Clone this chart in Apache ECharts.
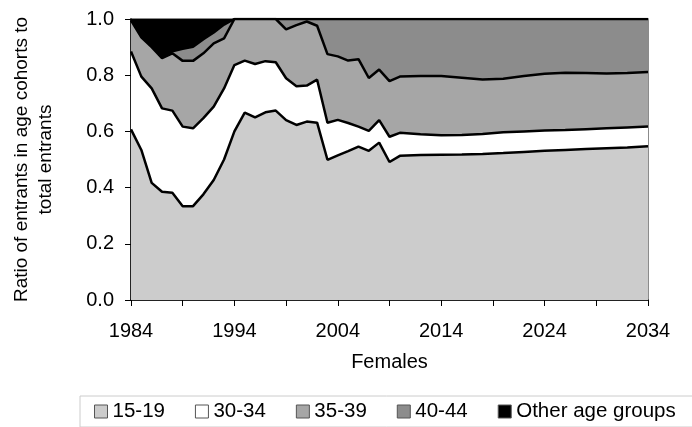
<!DOCTYPE html>
<html>
<head>
<meta charset="utf-8">
<script src="https://cdn.jsdelivr.net/npm/echarts@6/dist/echarts.min.js"></script>
<style>
html, body { margin: 0; padding: 0; background: #fff; }
#chart { width: 692px; height: 427px; }
</style>
</head>
<body>
<div id="chart"></div>
<script>
// years: annual history, projection every two years
var years = [1984, 1985, 1986, 1987, 1988, 1989, 1990, 1991, 1992, 1993, 1994, 1995, 1996, 1997, 1998, 1999,
  2000, 2001, 2002, 2003, 2004, 2005, 2006, 2007, 2008, 2009, 2010,
  2012, 2014, 2016, 2018, 2020, 2022, 2024, 2026, 2028, 2030, 2032, 2034];

var age15to19 = [0.607, 0.534, 0.417, 0.385, 0.382, 0.334, 0.334, 0.376, 0.427, 0.500, 0.600, 0.667, 0.650, 0.668, 0.674, 0.640,
  0.623, 0.635, 0.631, 0.499, 0.515, 0.530, 0.546, 0.531, 0.560, 0.491, 0.513,
  0.516, 0.517, 0.518, 0.520, 0.523, 0.527, 0.531, 0.534, 0.537, 0.540, 0.543, 0.547];

var age30to34 = [0.277, 0.261, 0.336, 0.297, 0.292, 0.283, 0.277, 0.271, 0.261, 0.253, 0.236, 0.185, 0.190, 0.182, 0.172, 0.149,
  0.138, 0.128, 0.153, 0.132, 0.126, 0.100, 0.071, 0.071, 0.080, 0.090, 0.082,
  0.074, 0.069, 0.069, 0.071, 0.074, 0.073, 0.072, 0.071, 0.071, 0.071, 0.071, 0.070];

var age35to39 = [0.111, 0.140, 0.147, 0.179, 0.204, 0.234, 0.240, 0.231, 0.225, 0.178, 0.164, 0.148, 0.160, 0.150, 0.154, 0.174,
  0.217, 0.228, 0.192, 0.244, 0.226, 0.222, 0.240, 0.188, 0.180, 0.198, 0.200,
  0.207, 0.211, 0.204, 0.194, 0.190, 0.197, 0.202, 0.204, 0.200, 0.195, 0.194, 0.194];

var age40to44 = [0, 0, 0, 0.002, 0.007, 0.043, 0.050, 0.050, 0.039, 0.049, 0, 0, 0, 0, 0, 0.037,
  0.022, 0.009, 0.024, 0.125, 0.133, 0.148, 0.143, 0.210, 0.180, 0.221, 0.205,
  0.203, 0.203, 0.209, 0.215, 0.213, 0.203, 0.195, 0.191, 0.192, 0.194, 0.192, 0.189];

var otherAges = [0.005, 0.065, 0.100, 0.137, 0.115, 0.106, 0.099, 0.072, 0.048, 0.020, 0, 0, 0, 0, 0, 0,
  0, 0, 0, 0, 0, 0, 0, 0, 0, 0, 0,
  0, 0, 0, 0, 0, 0, 0, 0, 0, 0, 0, 0];

var yTicks = ['0.0', '0.2', '0.4', '0.6', '0.8', '1.0'];
var firstYear = 1984;

var groups = [
  { name: '15-19', values: age15to19, color: '#cccccc' },
  { name: '30-34', values: age30to34, color: '#ffffff' },
  { name: '35-39', values: age35to39, color: '#a6a6a6' },
  { name: '40-44', values: age40to44, color: '#8c8c8c' },
  { name: 'Other age groups', values: otherAges, color: '#000000' }
];

var font = 'Liberation Sans, Arial, sans-serif';

// running totals, so each band is drawn as an area down to zero
var running = years.map(function () { return 0; });
groups.forEach(function (g) {
  g.top = g.values.map(function (v, i) {
    running[i] += v;
    // x is years since 1984 so the ticks start at 0
    return [years[i] - firstYear, +running[i].toFixed(4)];
  });
});

// topmost band first so lower bands paint over it
var series = groups.slice().reverse().map(function (g, k) {
  return {
    name: g.name,
    type: 'line',
    data: g.top,
    showSymbol: false,
    lineStyle: { color: '#000', width: g.name === 'Other age groups' ? 0 : 2.5 },
    itemStyle: { color: g.color },
    areaStyle: { color: g.color, opacity: 1 },
    z: 2 + k
  };
});

var chart = echarts.init(document.getElementById('chart'));
chart.setOption({
  animation: false,
  textStyle: { fontFamily: font },
  grid: {
    left: 131, right: 44, top: 19, bottom: 127,
    show: true, borderColor: '#666', borderWidth: 1.5
  },
  legend: {
    data: groups.map(function (g) { return g.name; }),
    left: 80, top: 396,
    width: 660,
    icon: 'rect',
    itemWidth: 13, itemHeight: 13,
    itemGap: 30,
    itemStyle: { borderColor: '#555', borderWidth: 1 },
    borderColor: '#cccccc', borderWidth: 1,
    padding: [5, 40, 5, 14],
    textStyle: { fontSize: 20.5, color: '#000', fontFamily: font }
  },
  xAxis: {
    type: 'value',
    min: 0, max: 50, interval: 5,
    name: 'Females',
    nameLocation: 'middle',
    nameGap: 52,
    nameTextStyle: { fontSize: 20, color: '#000', fontFamily: font },
    axisLine: { lineStyle: { color: '#000', width: 1.5 } },
    axisTick: { length: 6, lineStyle: { color: '#000' } },
    splitLine: { show: false },
    axisLabel: {
      fontSize: 20, color: '#000', margin: 21,
      formatter: function (v) { return v % 10 === 0 ? String(firstYear + v) : ''; }
    }
  },
  yAxis: {
    type: 'value',
    min: 0, max: 1, interval: 0.2,
    name: 'Ratio of entrants in age cohorts to\ntotal entrants',
    nameLocation: 'middle',
    nameGap: 73,
    nameTextStyle: { fontSize: 19, color: '#000', fontFamily: font, lineHeight: 24 },
    axisLine: { show: true, lineStyle: { color: '#000', width: 1.5 } },
    axisTick: { show: true, length: 6, lineStyle: { color: '#000' } },
    splitLine: { show: false },
    axisLabel: {
      fontSize: 20, color: '#000', margin: 17,
      formatter: function (v) { return yTicks[Math.round(v * 5)]; }
    }
  },
  series: series
});
</script>
</body>
</html>
